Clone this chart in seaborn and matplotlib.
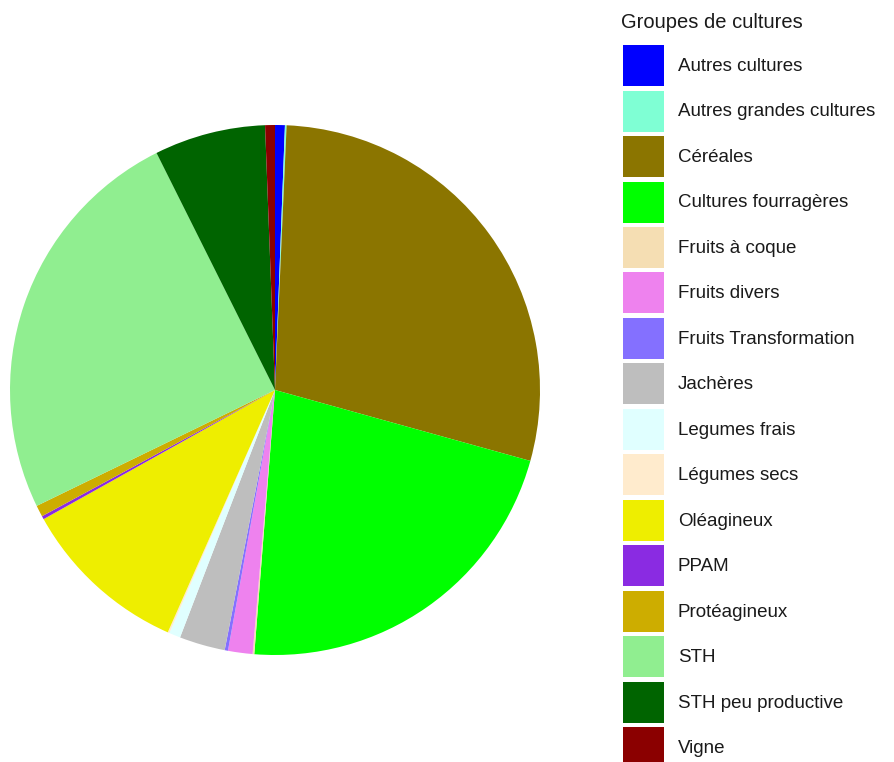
import matplotlib
matplotlib.use("Agg")
import matplotlib.pyplot as plt
import matplotlib.patches as mpatches
import seaborn as sns

# surface share of each crop group (%)
groupes = ["Autres cultures", "Autres grandes cultures", "Céréales", "Cultures fourragères",
           "Fruits à coque", "Fruits divers", "Fruits Transformation", "Jachères",
           "Legumes frais", "Légumes secs", "Oléagineux", "PPAM", "Protéagineux",
           "STH", "STH peu productive", "Vigne"]
parts = [0.6, 0.1, 28.7, 22.0, 0.1, 1.5, 0.2, 2.8, 0.7, 0.1, 10.3, 0.2, 0.7, 24.9, 6.8, 0.6]
couleurs = ["#0000FF", "#7FFFD4", "#8B7500", "#00FF00", "#F5DEB3", "#EE82EE", "#8470FF",
            "#BEBEBE", "#E0FFFF", "#FFEBCD", "#EEEE00", "#8A2BE2", "#CDAD00", "#90EE90",
            "#006400", "#8B0000"]

sns.set_theme(style="white")
plt.rcParams["font.family"] = ["Liberation Sans", "DejaVu Sans"]

W, H = 895, 762
fig = plt.figure(figsize=(W / 100, H / 100), dpi=100)
cx, cy, r = 275, 390, 265
ax = fig.add_axes([(cx - r) / W, (H - cy - r) / H, 2 * r / W, 2 * r / H])
ax.pie(parts, colors=couleurs, startangle=90, counterclock=False,
       wedgeprops=dict(linewidth=0))
ax.set_xlim(-1, 1)
ax.set_ylim(-1, 1)
ax.set_aspect("equal")
ax.axis("off")

# legend title drawn on its own, keys below
fig.text(621 / W, 1 - 23 / H, "Groupes de cultures", fontsize=14.5,
         color="#1a1a1a", ha="left", va="center")
handles = [mpatches.Patch(facecolor=c, edgecolor="none", label=g)
           for g, c in zip(groupes, couleurs)]
fs = 13.5
fs_px = fs * 100 / 72
leg = fig.legend(handles=handles, loc="upper left",
                 bbox_to_anchor=(623 / W, 1 - 45 / H), frameon=False, fontsize=fs,
                 handlelength=41 / fs_px,
                 handleheight=(41 / fs_px - 0.245) / 0.65,
                 labelspacing=4.5 / fs_px, handletextpad=14 / fs_px,
                 borderaxespad=0, borderpad=0)
for t in leg.get_texts():
    t.set_color("#1a1a1a")
fig.savefig("out.png", dpi=100)
